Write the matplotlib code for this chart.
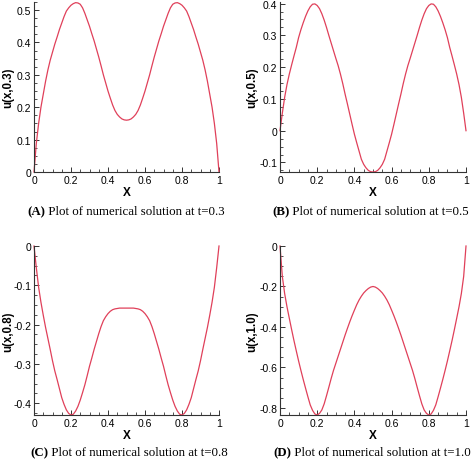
import numpy as np
import matplotlib
matplotlib.use("Agg")
import matplotlib.pyplot as plt
from matplotlib.ticker import MultipleLocator, AutoMinorLocator, FormatStrFormatter

plt.rcParams['font.family'] = ['Liberation Sans', 'DejaVu Sans']
plt.rcParams['axes.unicode_minus'] = False

# x grid (step 0.0125)
x_vals = [i * 0.0125 for i in range(81)]

# u(x,0.3)
u_t03 = [0.0, 0.088, 0.15, 0.2, 0.24, 0.28, 0.315, 0.345, 0.37, 0.395,
         0.417, 0.44, 0.46, 0.48, 0.497, 0.507, 0.515, 0.52, 0.523, 0.522,
         0.518, 0.507, 0.49, 0.47, 0.45, 0.427, 0.405, 0.38, 0.355, 0.328,
         0.30, 0.275, 0.25, 0.228, 0.207, 0.19, 0.178, 0.17, 0.164, 0.161,
         0.16,
         0.161, 0.164, 0.17, 0.178, 0.19, 0.207, 0.228, 0.25, 0.275, 0.30,
         0.328, 0.355, 0.38, 0.405, 0.427, 0.45, 0.47, 0.49, 0.507, 0.518,
         0.522, 0.523, 0.52, 0.515, 0.507, 0.497, 0.48, 0.46, 0.44, 0.417,
         0.395, 0.37, 0.345, 0.315, 0.28, 0.24, 0.2, 0.15, 0.088, 0.0]

# u(x,0.5)
u_t05 = [0.0, 0.055, 0.105, 0.145, 0.178, 0.207, 0.235, 0.262, 0.293, 0.318,
         0.34, 0.36, 0.377, 0.39, 0.398, 0.399, 0.394, 0.384, 0.368, 0.348,
         0.325, 0.30, 0.276, 0.252, 0.228, 0.205, 0.178, 0.148, 0.115, 0.084,
         0.052, 0.02, -0.011, -0.038, -0.064, -0.09, -0.106, -0.117, -0.125, -0.129,
         -0.13,
         -0.129, -0.125, -0.117, -0.106, -0.09, -0.064, -0.038, -0.011, 0.02, 0.052,
         0.084, 0.115, 0.148, 0.178, 0.205, 0.228, 0.252, 0.276, 0.30, 0.325,
         0.348, 0.368, 0.384, 0.394, 0.399, 0.398, 0.39, 0.377, 0.36, 0.34,
         0.318, 0.293, 0.262, 0.235, 0.207, 0.178, 0.145, 0.105, 0.055, 0.0]

# u(x,0.8)
u_t08 = [0.0, -0.055, -0.105, -0.143, -0.176, -0.207, -0.235, -0.263, -0.292, -0.318,
         -0.34, -0.363, -0.386, -0.403, -0.417, -0.426, -0.43, -0.428, -0.42, -0.408,
         -0.392, -0.373, -0.353, -0.33, -0.306, -0.285, -0.263, -0.243, -0.223, -0.205,
         -0.19, -0.18, -0.172, -0.166, -0.162, -0.16, -0.159, -0.158, -0.158, -0.158,
         -0.158,
         -0.158, -0.158, -0.158, -0.159, -0.16, -0.162, -0.166, -0.172, -0.18, -0.19,
         -0.205, -0.223, -0.243, -0.263, -0.285, -0.306, -0.33, -0.353, -0.373, -0.392,
         -0.408, -0.42, -0.428, -0.43, -0.426, -0.417, -0.403, -0.386, -0.363, -0.34,
         -0.318, -0.292, -0.263, -0.235, -0.207, -0.176, -0.143, -0.105, -0.055, 0.0]

# u(x,1.0)
u_t10 = [0.0, -0.15, -0.235, -0.3, -0.357, -0.413, -0.467, -0.518, -0.568, -0.615,
         -0.66, -0.703, -0.745, -0.785, -0.812, -0.83, -0.835, -0.827, -0.81, -0.78,
         -0.74, -0.698, -0.655, -0.615, -0.58, -0.545, -0.51, -0.475, -0.44, -0.407,
         -0.375, -0.345, -0.317, -0.29, -0.267, -0.248, -0.232, -0.22, -0.21, -0.203,
         -0.2,
         -0.203, -0.21, -0.22, -0.232, -0.248, -0.267, -0.29, -0.317, -0.345, -0.375,
         -0.407, -0.44, -0.475, -0.51, -0.545, -0.58, -0.615, -0.655, -0.698, -0.74,
         -0.78, -0.81, -0.827, -0.835, -0.83, -0.812, -0.785, -0.745, -0.703, -0.66,
         -0.615, -0.568, -0.518, -0.467, -0.413, -0.357, -0.3, -0.235, -0.15, 0.0]

panels = [
    dict(u=u_t03, ylabel='u(x,0.3)', tag='(A)', t='0.3', ylim=(0, 0.525), major=0.1,
         rect=[34, 3, 185, 170], cap_x=27, cap_dy=42, ylab_x=8),
    dict(u=u_t05, ylabel='u(x,0.5)', tag='(B)', t='0.5', ylim=(-0.13, 0.405), major=0.1,
         rect=[280, 3, 186, 170], cap_x=272, cap_dy=42, ylab_x=252),
    dict(u=u_t08, ylabel='u(x,0.8)', tag='(C)', t='0.8', ylim=(-0.43, 0), major=0.1,
         rect=[34, 247, 185, 169], cap_x=30, cap_dy=40, ylab_x=8),
    dict(u=u_t10, ylabel='u(x,1.0)', tag='(D)', t='1.0', ylim=(-0.835, 0), major=0.2,
         rect=[280, 247, 186, 169], cap_x=273, cap_dy=40, ylab_x=252),
]

W, H = 474, 460
fig = plt.figure(figsize=(W / 100, H / 100), dpi=100)

for p in panels:
    l, top, w, h = p['rect']
    ax = fig.add_axes([l / W, (H - top - h) / H, w / W, h / H])
    ax.plot(x_vals, p['u'], color='#e0405a', lw=0.9, clip_on=False)
    ax.set_xlim(0, 1)
    ax.set_ylim(*p['ylim'])
    ax.spines['top'].set_visible(False)
    ax.spines['right'].set_visible(False)
    for s in ('left', 'bottom'):
        ax.spines[s].set_linewidth(0.8)
        ax.spines[s].set_color('#333333')
    ax.xaxis.set_major_locator(MultipleLocator(0.2))
    ax.yaxis.set_major_locator(MultipleLocator(p['major']))
    ax.xaxis.set_minor_locator(AutoMinorLocator(4))
    ax.yaxis.set_minor_locator(AutoMinorLocator(4))
    ax.xaxis.set_major_formatter(FormatStrFormatter('%g'))
    ax.yaxis.set_major_formatter(FormatStrFormatter('%g'))
    ax.tick_params(which='both', direction='in', labelsize=7.5, color='#333333', pad=2)
    ax.tick_params(which='major', length=3.5, width=0.7)
    ax.tick_params(which='minor', length=2, width=0.6)
    ax.set_xlabel('X', fontsize=8.5, fontweight='bold', labelpad=1)
    ax.set_ylabel(p['ylabel'], fontsize=8.3, fontweight='bold', va='center')
    ax.yaxis.set_label_coords((p['ylab_x'] - l) / w, 0.5)

    # caption under the panel
    cx = p['cap_x'] / W
    cy = (H - (top + h + p['cap_dy'])) / H
    bold = fig.text(cx, cy, p['tag'], fontsize=9.3, fontweight='bold',
                    family='Liberation Serif', ha='left', va='baseline')
    ax.annotate(' Plot of numerical solution at t=' + p['t'], xy=(1, 0), xycoords=bold,
                fontsize=9.3, family='Liberation Serif', ha='left', va='bottom',
                annotation_clip=False)

fig.savefig('out.png', dpi=100)
